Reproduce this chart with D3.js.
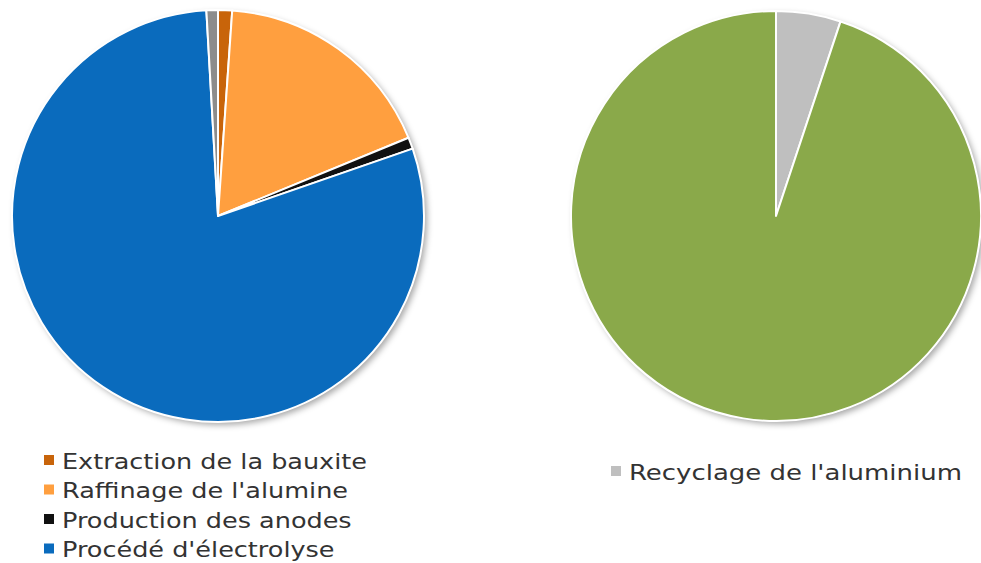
<!DOCTYPE html>
<html><head><meta charset="utf-8">
<script src="https://cdn.jsdelivr.net/npm/d3@7"></script>
<style>body{margin:0;background:#fff;}svg{display:block;}</style>
</head><body>
<script>
// Left pie (clockwise from 12 o'clock)
const leftCategories = ["Extraction de la bauxite","Raffinage de l'alumine","Production des anodes","Procédé d'électrolyse","Recyclage"];
const leftValues = [1.1, 17.7, 0.9, 79.4, 0.9];
const leftColors = ["#c8640a","#ff9f3f","#111111","#0a6bbd","#8c8c8c"];
const leftLegend = [0,1,2,3];
// Right pie
const rightCategories = ["Recyclage de l'aluminium","Production primaire"];
const rightValues = [5.1, 94.9];
const rightColors = ["#bfbfbf","#8aa94a"];
const rightLegend = [0];

const W=981,H=563;
const svg=d3.select("body").append("svg").attr("width",W).attr("height",H);
const defs=svg.append("defs");
const f=defs.append("filter").attr("id","sh").attr("x","-20%").attr("y","-20%").attr("width","140%").attr("height","140%");
f.append("feDropShadow").attr("dx",3).attr("dy",3).attr("stdDeviation",3).attr("flood-color","#000").attr("flood-opacity",0.35);

function drawPie(cx,cy,r,values,colors){
  const pie=d3.pie().sort(null).value(d=>d);
  const arc=d3.arc().innerRadius(0).outerRadius(r);
  const g=svg.append("g").attr("transform",`translate(${cx},${cy})`);
  g.append("circle").attr("r",r).attr("fill","#fff").attr("filter","url(#sh)");
  g.selectAll("path").data(pie(values)).join("path")
    .attr("d",arc).attr("fill",(d,i)=>colors[i])
    .attr("stroke","#fff").attr("stroke-width",2).attr("stroke-linejoin","round");
}
drawPie(218,216,206,leftValues,leftColors);
drawPie(776,216,205,rightValues,rightColors);

function legend(x,y,step,items,cats,colors,sx){
  const g=svg.append("g").attr("transform",`translate(${x},${y})`);
  items.forEach((idx,k)=>{
    const row=g.append("g").attr("transform",`translate(0,${k*step})`);
    row.append("rect").attr("x",0).attr("y",-6).attr("width",10).attr("height",10).attr("fill",colors[idx]);
    row.append("text").attr("transform",`translate(18,0) scale(${sx},1)`).attr("dy","0.35em")
      .attr("font-family","DejaVu Sans").attr("font-size",22).attr("fill","#333")
      .text(cats[idx]);
  });
}
legend(44,461,29.5,leftLegend,leftCategories,leftColors,1.16);
legend(611,472,29.5,rightLegend,rightCategories,rightColors,1.18);
</script>
</body></html>
